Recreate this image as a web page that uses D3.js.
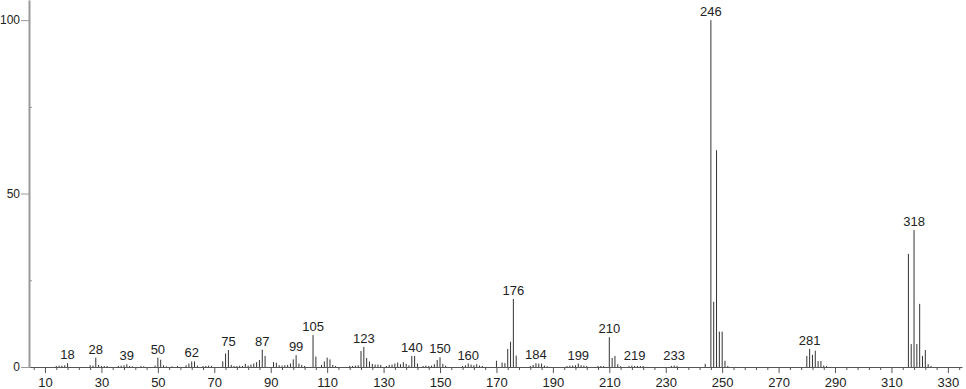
<!DOCTYPE html>
<html>
<head>
<meta charset="utf-8">
<script src="https://cdn.jsdelivr.net/npm/d3@7"></script>
<style>
  body { margin: 0; background: #fff; }
  text { font-family: "Liberation Sans", Arial, sans-serif; fill: #222; }
</style>
</head>
<body>
<div id="chart"></div>
<script>
// m/z values and relative intensities
var mz = [14, 15, 16, 17, 18, 26, 27, 28, 29, 30, 31, 32, 36, 37, 38, 39, 40, 41, 44, 45,
  49, 50, 51, 52, 53, 55, 57, 60, 61, 62, 63, 64, 66, 67, 68, 69,
  73, 74, 75, 76, 77, 78, 79, 80, 81, 82, 83, 84, 85, 86, 87, 88,
  91, 92, 93, 94, 95, 96, 97, 98, 99, 100, 101, 102,
  105, 106, 108, 109, 110, 111, 112, 113, 118, 119, 120, 121, 122, 123, 124, 125,
  126, 127, 128, 129, 131, 132, 133, 134, 135, 136, 137, 138, 139, 140, 141, 142,
  144, 145, 146, 147, 148, 149, 150, 151, 152, 158, 159, 160, 161, 162, 163, 164, 165,
  170, 172, 173, 174, 175, 176, 177, 182, 183, 184, 185, 186, 187, 188,
  195, 196, 197, 198, 199, 200, 201, 202, 206, 207, 208, 210, 211, 212, 213, 214,
  217, 218, 219, 220, 221, 222, 232, 233, 234, 244, 246, 247, 248, 249, 250, 251, 252,
  280, 281, 282, 283, 284, 285, 286, 287, 316, 317, 318, 319, 320, 321, 322, 323, 324];
var intensity = [0.3, 0.4, 0.4, 0.5, 1.1, 0.5, 0.4, 2.7, 0.6, 0.3, 0.3, 0.3, 0.3, 0.4, 0.5, 0.8, 0.3, 0.2, 0.3, 0.2,
  0.4, 2.7, 2.1, 0.5, 0.2, 0.2, 0.3, 0.5, 1.0, 1.6, 1.6, 0.4, 0.3, 0.3, 0.4, 0.3,
  1.6, 3.9, 4.9, 0.6, 0.3, 0.3, 0.4, 0.3, 0.9, 0.4, 0.7, 1.0, 1.4, 2.0, 5.0, 3.2,
  1.4, 1.2, 0.5, 0.4, 0.5, 0.6, 1.0, 2.2, 3.4, 1.0, 0.6, 0.3,
  9.2, 3.0, 0.6, 1.6, 2.7, 2.2, 0.6, 0.3, 0.3, 0.3, 0.4, 0.5, 4.6, 5.8, 2.6, 1.6,
  0.9, 0.7, 0.7, 0.6, 0.3, 0.6, 0.7, 1.0, 1.3, 0.8, 1.4, 0.9, 0.5, 3.2, 3.2, 1.0,
  0.3, 0.4, 0.3, 0.4, 0.8, 2.0, 2.8, 0.9, 0.4, 0.3, 0.5, 1.0, 0.7, 0.5, 0.8, 0.4, 0.3,
  1.8, 1.3, 1.1, 5.2, 7.3, 19.6, 3.3, 0.3, 0.6, 1.1, 1.0, 1.0, 0.4, 0.2,
  0.3, 0.4, 0.4, 0.5, 1.0, 0.5, 0.4, 0.3, 0.3, 0.3, 0.3, 8.6, 2.6, 3.2, 0.8, 0.2,
  0.3, 0.4, 0.3, 0.3, 0.3, 0.3, 0.3, 0.4, 0.3, 0.9, 100, 18.8, 62.5, 10.2, 10.2, 1.8, 0.3,
  3.2, 5.2, 3.5, 4.7, 1.7, 1.7, 0.4, 0.3, 32.6, 6.6, 39.5, 6.6, 18.2, 3.2, 4.9, 0.8, 0.3];
var labelled = [18, 28, 39, 50, 62, 75, 87, 99, 105, 123, 140, 150, 160, 176, 184, 199, 210, 219, 233, 246, 281, 318];
var xTicks = [10, 30, 50, 70, 90, 110, 130, 150, 170, 190, 210, 230, 250, 270, 290, 310, 330];
var yTicks = [0, 50, 100];
var yMinor = [25, 75];

var width = 966, height = 389;

var svg = d3.select("#chart")
  .append("svg")
  .attr("width", width)
  .attr("height", height);

var peaks = mz.map(function(d, i) { return { mz: d, v: intensity[i] }; });

// Scales
var x = d3.scaleLinear().domain([4.33, 335]).range([29, 962]);
var y = d3.scaleLinear().domain([0, 105.8]).range([367, 0]);

// minor x ticks every 4
var minor = d3.range(6, 335, 4).filter(function(d) { return xTicks.indexOf(d) < 0; });
svg.append("g")
  .attr("transform", "translate(0," + y(0) + ")")
  .call(d3.axisBottom(x).tickValues(minor).tickSize(3).tickFormat(""))
  .call(function(g) {
    g.select(".domain").remove();
    g.selectAll("line").attr("stroke", "#555");
  });

// x axis
svg.append("g")
  .attr("transform", "translate(0," + y(0) + ")")
  .call(d3.axisBottom(x).tickValues(xTicks).tickSize(6).tickSizeOuter(0).tickPadding(5))
  .call(function(g) {
    g.select(".domain").attr("stroke", "#555");
    g.selectAll("line").attr("stroke", "#555");
    g.selectAll("text").style("font-size", "13px").attr("fill", "#222");
  });

// peaks
svg.append("g")
  .selectAll("line")
  .data(peaks)
  .enter()
  .append("line")
  .attr("x1", function(d) { return x(d.mz); })
  .attr("x2", function(d) { return x(d.mz); })
  .attr("y1", y(0))
  .attr("y2", function(d) { return y(d.v); })
  .attr("stroke", "#333")
  .attr("stroke-width", 1);

// y axis
svg.append("g")
  .attr("transform", "translate(" + x(4.33) + ",0)")
  .call(d3.axisLeft(y).tickValues(yTicks).tickSize(8).tickSizeOuter(0).tickPadding(1))
  .call(function(g) {
    g.select(".domain").attr("stroke", "#999").attr("stroke-width", 2);
    g.selectAll("line").attr("stroke", "#999");
    g.selectAll("text").style("font-size", "12px").attr("fill", "#222");
  });
svg.append("g")
  .attr("transform", "translate(" + x(4.33) + ",0)")
  .call(d3.axisRight(y).tickValues(yMinor).tickSize(3).tickFormat(""))
  .call(function(g) {
    g.select(".domain").remove();
    g.selectAll("line").attr("stroke", "#999");
  });

// peak labels
svg.append("g")
  .selectAll("text")
  .data(peaks.filter(function(d) { return labelled.indexOf(d.mz) >= 0; }))
  .enter()
  .append("text")
  .attr("x", function(d) { return x(d.mz); })
  .attr("y", function(d) { return Math.min(y(d.v) - 4, y(0) - 7); })
  .attr("text-anchor", "middle")
  .style("font-size", "13px")
  .text(function(d) { return d.mz; });
</script>
</body>
</html>
